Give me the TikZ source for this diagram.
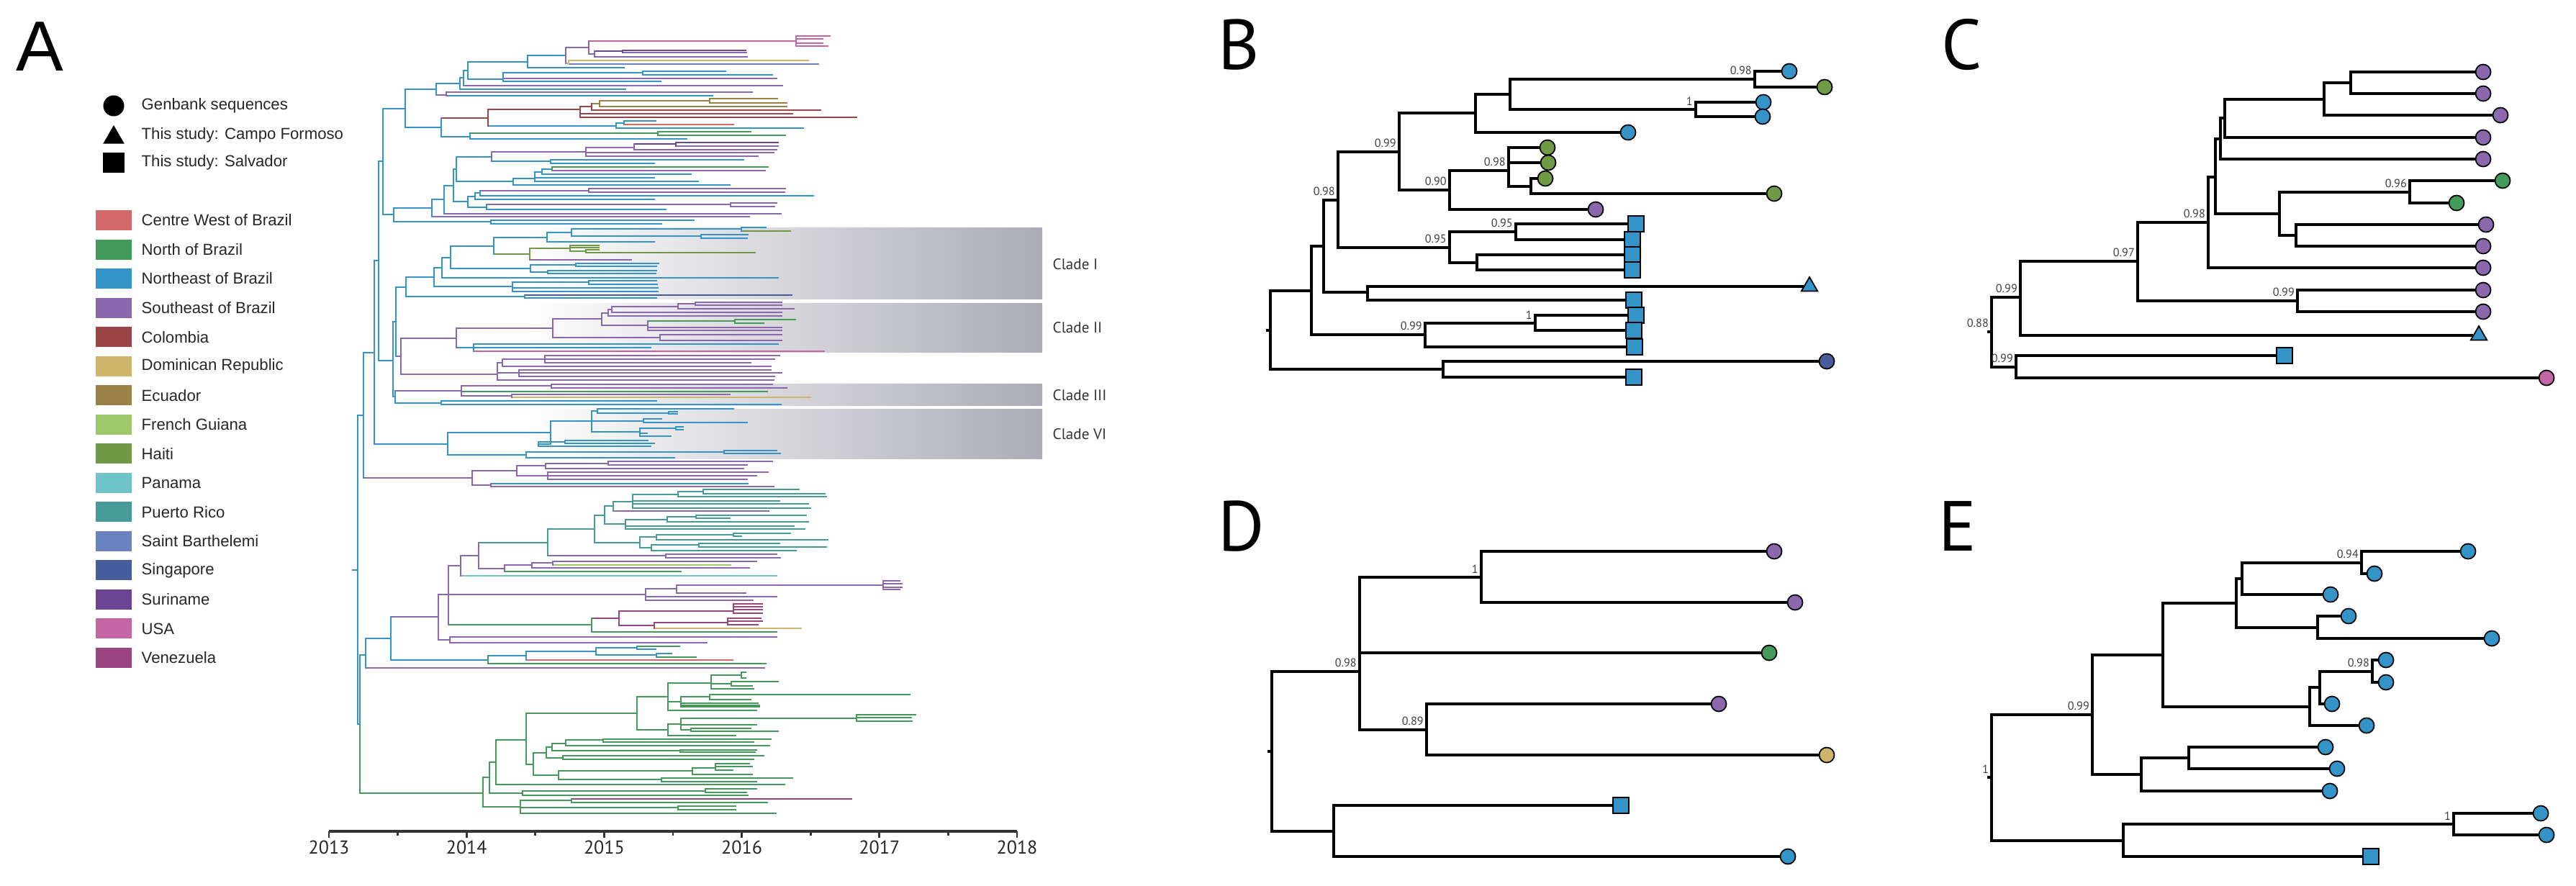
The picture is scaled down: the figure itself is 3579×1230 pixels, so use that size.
\documentclass[tikz,border=0pt]{standalone}
\usepackage{fontspec}
\setmainfont{Liberation Sans}
\newfontfamily\myriad{PT Sans}
\usetikzlibrary{shapes.geometric}
\definecolor{cw}{HTML}{D26A6A}
\definecolor{nb}{HTML}{449A5A}
\definecolor{ne}{HTML}{3494C8}
\definecolor{se}{HTML}{8B68AE}
\definecolor{co}{HTML}{9A4446}
\definecolor{dr}{HTML}{CFB56A}
\definecolor{ec}{HTML}{9A8246}
\definecolor{fg}{HTML}{9CC86A}
\definecolor{ht}{HTML}{709A46}
\definecolor{pa}{HTML}{6EC4C6}
\definecolor{pr}{HTML}{469A98}
\definecolor{sb}{HTML}{6A82C0}
\definecolor{sg}{HTML}{465C9C}
\definecolor{su}{HTML}{6C4494}
\definecolor{us}{HTML}{C466A4}
\definecolor{ve}{HTML}{9A4480}
\definecolor{cladegray}{HTML}{ACACB6}
\tikzstyle{phy} = [
  line width=0.65pt,
  line cap=rect,
]
\tikzstyle{branch} = [
  line width=0.9pt,
  black,
]
\tikzstyle{gbk} = [
  circle,
  draw=black,
  line width=0.5pt,
  minimum size=2.1mm,
  inner sep=0,
]
\tikzstyle{ssa} = [
  rectangle,
  draw=black,
  line width=0.5pt,
  minimum size=2.2mm,
  inner sep=0,
]
\tikzstyle{cfm} = [
  regular polygon,
  regular polygon sides=3,
  draw=black,
  line width=0.5pt,
  minimum size=2.6mm,
  inner sep=0,
]
\tikzstyle{pp} = [
  font=\myriad\fontsize{4.6}{5}\selectfont,
  text=black!75,
  anchor=south east,
  inner sep=0.4pt,
  xshift=-0.6pt,
  yshift=1.1pt,
]
\tikzstyle{panel} = [
  font=\myriad\fontsize{28}{30}\selectfont,
  anchor=base west,
  inner sep=0,
]
\tikzstyle{swatch} = [
  rectangle,
  minimum width=5mm,
  minimum height=2.8mm,
  inner sep=0,
]
\tikzstyle{legtext} = [
  font=\fontsize{6.3}{7}\selectfont,
  text=black!85,
  anchor=west,
  inner sep=0,
]
\tikzstyle{yearlab} = [
  font=\myriad\fontsize{7.4}{8}\selectfont,
  text=black!85,
  anchor=north,
  inner sep=0,
]
\tikzstyle{cladelab} = [
  font=\myriad\fontsize{6}{7}\selectfont,
  text=black!80,
  anchor=west,
  inner sep=0,
]

\begin{document}
\begin{tikzpicture}[
    x=0.01cm,
    y=-0.01cm,
    auto,
  ]
  \useasboundingbox (0,0) rectangle (3579,1230);

  % panel A: legend
  \node[anchor=base west, inner sep=0, font=\fontsize{28}{30}\selectfont] (pa) at (22,98) {A};
  \node[circle, fill=black, minimum size=2.9mm, inner sep=0] (genbank) at (158,147) {};
  \node[regular polygon, regular polygon sides=3, fill=black, minimum size=3.4mm, inner sep=0] (campo) at (158,191) {};
  \node[rectangle, fill=black, minimum width=3mm, minimum height=2.7mm, inner sep=0] (salvador) at (158,226) {};
  \node[legtext] (genbanktxt) at (196,147) {Genbank sequences};
  \node[legtext] (campotxt) at (196,188) {This study: Campo Formoso};
  \node[legtext] (salvadortxt) at (196,226) {This study: Salvador};
  \foreach \cl/\txt [count=\i from 0] in {cw/Centre West of Brazil, nb/North of Brazil,
      ne/Northeast of Brazil, se/Southeast of Brazil, co/Colombia, dr/Dominican Republic,
      ec/Ecuador, fg/French Guiana, ht/Haiti, pa/Panama, pr/Puerto Rico,
      sb/Saint Barthelemi, sg/Singapore, su/Suriname, us/USA, ve/Venezuela} {
    \node[swatch, fill=\cl] (sw\i) at (158,306+40.53*\i) {};
    \node[legtext] (lg\i) at (196,306+40.53*\i) {\txt};
  }

  % clade shading
  \shade[left color=white, right color=cladegray] (730,316) rectangle (1448,415);
  \shade[left color=white, right color=cladegray] (730,421) rectangle (1448,489);
  \shade[left color=white, right color=cladegray] (730,533) rectangle (1448,563);
  \shade[left color=white, right color=cladegray] (730,568) rectangle (1448,637);
  \node[cladelab] (cladeI) at (1462,367) {Clade I};
  \node[cladelab] (cladeII) at (1462,455) {Clade II};
  \node[cladelab] (cladeIII) at (1462,549) {Clade III};
  \node[cladelab] (cladeVI) at (1462,603) {Clade VI};

  % panel A: time tree, horizontal branches y/x1/x2/colour
  \foreach \y/\a/\b/\cl in {151/532/563/ne, 124/563/606/ne, 116/606/639/ne, 108/639/644/ne,
      98/644/650/ne, 86/650/733/ne, 77/733/786/ne, 66/786/818/se, 57/818/1106/us,
      50/1106/1153/us, 54/1106/1143/us, 60/1106/1143/us, 64/1106/1150/us, 75/818/826/se,
      71/826/865/su, 70/865/1036/su, 73/865/1037/se, 79/826/1038/se, 88/786/790/dr,
      84/790/1123/dr, 89/790/1137/sb, 94/733/867/ne, 110/650/699/ne, 101/699/893/ne,
      99/893/1008/ne, 104/893/1073/ne, 109/699/1079/se, 113/699/918/ne, 119/644/1087/se,
      124/639/869/ne, 132/606/620/se, 128/620/1045/se, 133/620/990/ne, 177/563/613/ne,
      164/613/678/co, 152/678/806/co, 148/806/822/co, 144/822/833/ec, 140/833/986/ec,
      137/986/1080/ec, 143/986/1093/ec, 148/833/1093/ec, 153/822/1140/co, 158/806/1101/co,
      163/806/1190/co, 175/678/856/ne, 171/856/867/ne, 168/867/911/ne, 173/867/1019/cw,
      178/856/1116/ne, 190/613/653/ne, 185/653/914/nb, 183/914/1043/nb, 188/914/1091/nb,
      193/653/954/ne,
      211/683/814/se, 205/814/881/se, 212/814/1075/se, 217/814/1053/se, 200/881/939/su,
      208/881/1079/se, 198/939/1081/su, 203/939/1081/se, 224/683/765/ne, 222/765/1033/ne,
      227/765/909/ne, 218/634/683/ne, 252/634/713/ne, 248/713/743/ne, 257/713/1014/ne,
      239/743/753/ne, 247/743/909/ne, 252/743/970/ne, 235/753/767/ne, 242/753/960/ne,
      232/767/1067/nb, 237/767/1063/se, 235/630/634/ne, 280/630/650/ne, 273/650/660/ne,
      288/650/676/ne, 268/660/667/ne, 277/660/909/ne, 265/667/818/se, 272/667/1130/ne,
      262/818/1091/se, 267/818/1090/se, 284/676/1015/se, 291/676/925/ne, 282/1015/1079/se,
      287/1015/1076/se, 258/617/630/ne, 297/617/1085/se, 277/600/617/ne, 301/600/1041/se,
      289/547/600/ne, 308/547/682/ne, 306/682/964/ne, 311/682/919/ne, 298/532/547/ne,
      224/526/532/ne, 362/520/526/ne, 490/505/520/ne, 577/497/505/ne, 792/490/497/ne,
      501/526/546/ne, 617/520/622/ne, 664/505/656/se, 1006/497/500/ne,
      447/546/550/ne, 551/546/549/ne, 399/550/564/ne, 495/550/557/se, 543/549/641/se,
      560/549/613/ne} {
    \draw[phy, color=\cl] (\a,\y) -- (\b,\y);
  }
  % clades I, II, III, VI
  \foreach \y/\a/\b/\cl in {385/564/603/ne, 412/564/729/ne, 372/603/614/ne, 398/603/712/ne,
      358/614/626/ne, 386/614/1081/ne, 342/626/686/ne, 373/626/737/ne, 330/686/760/ne,
      353/686/736/ht, 323/760/794/ne, 336/760/909/ne, 318/794/1030/ne, 328/794/974/ne,
      316/1030/1064/ne, 321/1030/1098/ht, 326/974/1039/ne, 331/974/1038/ne, 345/736/792/ht,
      361/736/877/se, 341/792/832/ht, 344/792/832/ht, 349/792/814/ht, 347/814/832/ht,
      351/814/1049/ht, 368/737/800/ne, 378/737/761/ne, 366/800/915/ne, 370/800/912/ne,
      376/761/912/ne, 380/761/911/ne, 392/712/818/ne, 400/712/914/ne, 405/712/914/ne,
      390/818/912/ne, 395/818/913/ne, 410/729/1100/sg, 414/729/912/ne,
      420/966/1086/se, 424/966/1086/se, 422/942/966/se, 429/942/1103/se, 426/850/942/se,
      434/850/1086/se, 430/845/850/se, 439/845/1086/se, 435/836/845/se, 452/836/900/se,
      446/900/1021/nb, 444/1021/1105/nb, 449/1021/1061/nb, 455/900/1086/se, 459/900/1086/se,
      443/768/836/se, 469/768/917/se, 465/917/1086/se, 473/917/1086/se, 456/634/768/se,
      483/634/904/ne, 478/658/1081/ne, 488/658/1145/us, 470/557/634/se, 520/557/691/se,
      494/757/1083/se, 499/757/1076/se, 504/757/1043/se, 499/698/757/se, 509/698/1071/se,
      514/721/1071/se, 518/721/1086/se, 523/721/1076/se, 504/691/698/se, 518/691/721/se,
      528/691/1075/se,
      536/641/766/se, 534/766/1073/se, 539/766/1093/se, 544/641/1066/nb, 550/641/711/se,
      548/711/1014/se, 552/711/1126/dr, 557/613/912/ne, 562/613/1085/ne,
      601/622/765/ne, 632/622/731/ne, 585/765/822/ne, 617/765/748/ne, 571/822/830/ne,
      585/822/894/ne, 600/822/889/ne, 568/830/1019/ne, 574/830/929/ne, 572/929/941/ne,
      575/929/941/ne, 582/894/919/ne, 587/894/1038/ne, 595/889/939/ne, 602/889/899/ne,
      606/889/932/ne, 593/939/949/ne, 597/939/949/ne, 614/748/785/ne, 620/748/904/ne,
      612/785/900/ne, 616/785/909/ne, 628/731/1006/ne, 636/731/937/ne, 626/1006/1079/ne,
      630/1006/1084/ne,
      654/656/718/se, 674/656/682/se, 647/718/758/se, 661/718/761/se, 644/758/845/se,
      651/758/1033/se, 641/845/1073/se, 646/845/1038/se, 656/761/1067/se, 661/761/1051/se,
      666/761/1038/se, 672/682/1039/ne, 676/682/1075/se} {
    \draw[phy, color=\cl] (\a,\y) -- (\b,\y);
  }
  % lower half
  \foreach \y/\a/\b/\cl in {910/500/508/ne, 1102/500/671/nb, 887/508/543/ne, 928/508/1062/se,
      857/543/609/se, 917/543/678/ne, 826/609/623/se, 889/609/625/se, 885/625/1079/se,
      893/625/982/se, 786/623/640/se, 826/623/897/se, 868/623/822/nb, 772/640/665/se,
      800/640/1079/pa, 754/665/761/pr, 790/665/701/se, 735/761/826/pr, 772/761/925/se,
      716/826/840/pr, 754/826/889/pr, 703/840/852/pr, 728/840/869/pr, 697/852/879/pr,
      710/852/1068/se, 687/879/942/pr, 696/879/1083/pr, 700/879/1123/pr, 706/879/1126/pr,
      683/942/977/pr, 690/942/1148/pr, 680/977/1110/pr, 686/977/1146/pr, 722/869/927/pr,
      731/869/1103/pr, 735/869/1118/pr, 718/927/967/pr, 725/927/1123/pr, 716/967/1120/pr,
      720/967/1014/pr, 746/889/912/pr, 761/889/905/pr, 743/912/1019/pr, 750/912/1150/pr,
      741/1019/1098/pr, 745/1019/1030/pr, 757/905/971/pr, 765/905/1106/pr, 755/971/1083/pr,
      760/971/1148/pr, 770/925/1079/se, 775/925/1084/se, 785/701/739/se, 794/701/946/nb,
      782/739/768/se, 789/739/1041/se, 780/768/1051/se, 785/768/1015/fg, 818/897/940/se,
      829/897/1079/se, 834/897/1046/se, 813/940/1227/se, 824/940/1036/se, 807/1227/1250/se,
      811/1227/1253/se, 816/1227/1253/se, 819/1227/1250/se, 859/822/860/ve, 878/822/1079/nb,
      849/860/1019/ve, 869/860/909/ve, 839/1019/1059/ve, 843/1019/1059/ve, 847/1019/1059/ve,
      852/1019/1059/ve, 865/909/1011/ve, 873/909/1113/dr, 859/1011/1057/ve, 863/1011/1059/ve,
      868/1011/1053/ve, 911/678/731/ne, 922/678/1064/nb, 905/731/828/ne, 917/731/1018/cw,
      900/828/885/ne, 910/828/912/ne, 898/885/944/nb, 902/885/911/ne, 908/912/933/ne,
      913/912/967/nb,
      1080/671/680/nb, 1121/671/723/nb, 1059/680/689/nb, 1102/680/726/nb, 1028/689/731/nb,
      1090/689/1090/nb, 991/731/885/nb, 1062/731/741/nb, 968/885/928/nb, 1014/885/928/nb,
      949/928/988/nb, 975/928/946/nb, 987/928/1051/nb, 938/988/1030/nb, 934/1030/1036/nb,
      942/1030/1036/nb, 950/988/1016/nb, 957/988/1047/nb, 947/1016/1081/nb, 953/1016/1045/nb,
      968/946/986/nb, 977/946/1053/nb, 980/946/1055/nb, 982/946/1055/nb, 965/986/1264/nb,
      972/986/1043/nb, 1006/928/946/nb, 1022/928/1022/nb, 998/946/1190/nb, 1007/946/1051/nb,
      1014/946/960/nb, 993/1190/1272/nb, 997/1190/1266/nb, 1002/1190/1267/nb,
      1012/960/1043/nb, 1016/960/1081/nb, 1046/741/759/nb, 1077/741/776/nb, 1038/759/767/nb,
      1053/759/782/nb, 1033/767/786/nb, 1043/767/945/nb, 1028/786/838/nb, 1036/786/1069/nb,
      1027/838/1071/nb, 1031/838/1047/nb, 1042/945/1051/nb, 1045/945/1049/nb,
      1050/782/1061/nb, 1055/782/1047/nb, 1071/776/962/nb, 1083/776/919/nb, 1067/962/994/nb,
      1076/962/1045/nb, 1061/994/1041/nb, 1065/994/1045/nb, 1070/994/1018/nb,
      1081/919/1101/nb, 1086/919/1051/nb, 1099/726/980/nb, 1105/726/1039/nb,
      1096/980/1051/nb, 1101/980/1037/nb, 1112/723/794/nb, 1122/723/942/nb, 1130/723/1078/nb,
      1110/794/1183/ve, 1115/794/1066/nb, 1120/942/1022/nb, 1125/942/1022/nb} {
    \draw[phy, color=\cl] (\a,\y) -- (\b,\y);
  }
  % vertical branches x/y1/y2/colour
  \foreach \x/\a/\b/\cl in {532/151/298/ne, 563/124/177/ne, 606/116/132/ne, 639/108/124/ne,
      644/98/119/ne, 650/86/110/ne, 733/77/94/ne, 786/66/88/se, 818/57/75/se, 1106/50/64/us,
      826/71/79/se, 865/70/73/su, 790/84/89/dr, 699/101/113/ne, 893/99/104/ne,
      620/128/133/se, 613/164/190/ne, 678/152/175/co, 806/148/163/co, 822/144/153/co,
      833/140/148/ec, 986/137/143/ec, 856/171/178/ne, 867/168/173/ne, 653/185/193/ne,
      914/183/188/nb,
      814/205/217/se, 881/200/208/se, 939/198/203/su, 683/211/224/se, 765/222/227/ne,
      634/218/252/ne, 713/248/257/ne, 743/239/252/ne, 753/235/242/ne, 767/232/237/nb,
      630/235/280/ne, 650/273/288/ne, 660/268/277/ne, 667/265/272/ne, 818/262/267/se,
      676/284/291/ne, 1015/282/287/se, 617/258/297/ne, 600/277/301/ne, 547/289/308/ne,
      682/306/311/ne,
      526/224/501/ne, 520/362/617/ne, 505/490/664/ne, 497/577/1006/ne,
      546/447/551/ne, 550/399/495/ne, 549/543/560/ne,
      564/385/412/ne, 603/372/398/ne, 614/358/386/ne, 626/342/373/ne, 686/330/353/ne,
      760/323/336/ne, 794/318/328/ne, 1030/316/321/ne, 974/326/331/ne, 736/345/361/ht,
      792/341/349/ht, 814/347/351/ht, 737/368/378/ne, 800/366/370/ne, 761/376/380/ne,
      712/392/405/ne, 818/390/395/ne, 729/410/414/ne,
      966/420/424/se, 942/422/429/se, 850/426/434/se, 845/430/439/se, 836/435/452/se,
      900/446/459/se, 1021/444/449/nb, 768/443/469/se, 917/465/473/se, 634/456/483/se,
      658/478/488/ne, 557/470/520/se, 757/494/504/se, 698/499/509/se, 721/514/523/se,
      691/504/528/se,
      641/536/550/se, 766/534/539/se, 711/548/552/se, 613/557/562/ne,
      622/601/632/ne, 765/585/617/ne, 822/571/600/ne, 830/568/574/ne, 929/572/575/ne,
      894/582/587/ne, 889/595/606/ne, 939/593/597/ne, 748/614/620/ne, 785/612/616/ne,
      731/628/636/ne, 1006/626/630/ne,
      656/654/674/se, 718/647/661/se, 845/641/646/se, 758/644/651/se, 761/656/666/se,
      682/672/676/se,
      500/910/1006/ne, 500/1006/1102/nb, 508/887/928/ne, 543/857/917/ne, 609/826/889/se,
      625/885/893/se, 623/786/868/se, 640/772/800/se, 665/754/790/se, 761/735/772/pr,
      826/716/754/pr, 840/703/728/pr, 852/697/710/pr, 879/687/706/pr, 942/683/690/pr,
      977/680/686/pr, 869/722/735/pr, 927/718/725/pr, 967/716/720/pr, 889/746/761/pr,
      912/743/750/pr, 1019/741/745/pr, 905/757/765/pr, 971/755/760/pr, 925/770/775/se,
      701/785/794/se, 739/782/789/se, 768/780/785/se, 897/818/834/se, 940/813/824/se,
      1227/807/819/se, 822/859/878/nb, 860/849/869/ve, 1019/839/852/ve, 909/865/873/ve,
      1011/859/868/ve, 678/911/922/nb, 731/905/917/ne, 828/900/910/ne, 885/898/902/ne,
      912/908/913/ne,
      671/1080/1121/nb, 680/1059/1102/nb, 689/1028/1090/nb, 731/991/1062/nb,
      885/968/1014/nb, 928/949/987/nb, 988/938/957/nb, 1030/934/942/nb, 1016/947/953/nb,
      946/968/982/nb, 986/965/972/nb, 946/998/1014/nb, 1190/993/1002/nb, 928/1006/1022/nb,
      960/1012/1016/nb, 741/1046/1077/nb, 759/1038/1053/nb, 767/1033/1043/nb,
      786/1028/1036/nb, 838/1027/1031/nb, 945/1042/1045/nb, 782/1050/1055/nb,
      776/1071/1083/nb, 962/1067/1076/nb, 994/1061/1070/nb, 919/1081/1086/nb,
      726/1099/1105/nb, 980/1096/1101/nb, 723/1112/1130/nb, 794/1110/1115/nb,
      942/1120/1125/nb} {
    \draw[phy, color=\cl] (\x,\a) -- (\x,\b);
  }

  % time axis
  \draw[line width=0.9pt, black!80] (457,1155) -- (1413,1155);
  \foreach \yr [count=\i from 0] in {2013,2014,2015,2016,2017,2018} {
    \draw[line width=0.8pt, black!80] (457+191.2*\i,1155) -- ++(0,9);
    \node[yearlab] (yr\yr) at (457+191.2*\i,1167) {\yr};
  }
  \foreach \i in {0,...,4} {
    \draw[line width=0.8pt, black!80] (552.6+191.2*\i,1155) -- ++(0,6);
  }

  % panel B
  \node[panel] (pb) at (1692,97) {B};
  \node[gbk, fill=ne] (b1) at (2486,99) {};
  \node[gbk, fill=ht] (b2) at (2535,121) {};
  \node[gbk, fill=ne] (b3) at (2450,142) {};
  \node[gbk, fill=ne] (b4) at (2449,162) {};
  \node[gbk, fill=ne] (b5) at (2262,184) {};
  \node[gbk, fill=ht] (b6) at (2150,205) {};
  \node[gbk, fill=ht] (b7) at (2151,226) {};
  \node[gbk, fill=ht] (b8) at (2147,248) {};
  \node[gbk, fill=ht] (b9) at (2465,269) {};
  \node[gbk, fill=se] (b10) at (2217,291) {};
  \node[ssa, fill=ne] (b11) at (2273,311) {};
  \node[ssa, fill=ne] (b12) at (2268,333) {};
  \node[ssa, fill=ne] (b13) at (2268,354) {};
  \node[ssa, fill=ne] (b14) at (2268,375) {};
  \node[cfm, fill=ne] (b15) at (2514,398) {};
  \node[ssa, fill=ne] (b16) at (2270,417) {};
  \node[ssa, fill=ne] (b17) at (2273,438) {};
  \node[ssa, fill=ne] (b18) at (2270,459) {};
  \node[ssa, fill=ne] (b19) at (2271,482) {};
  \node[gbk, fill=sg] (b20) at (2538,502) {};
  \node[ssa, fill=ne] (b21) at (2270,524) {};
  \coordinate (ba) at (2438,110);
  \coordinate (bb) at (2356,152);
  \coordinate (bc) at (2098,131);
  \coordinate (bd) at (2050,157);
  \coordinate (be) at (1944,211);
  \coordinate (bf) at (2096,237);
  \coordinate (bg) at (2127,259);
  \coordinate (bh) at (2014,264);
  \coordinate (bi) at (2106,322);
  \coordinate (bj) at (2052,365);
  \coordinate (bk) at (2014,344);
  \coordinate (bl) at (1859,278);
  \coordinate (bm) at (1900,406);
  \coordinate (bn) at (1839,342);
  \coordinate (bo) at (2133,449);
  \coordinate (bp) at (1980,465);
  \coordinate (bq) at (1822,404);
  \coordinate (bt) at (2005,513);
  \coordinate (bs) at (1765,459);
  \draw[branch] (ba) |- (b1) (ba) |- (b2) (bb) |- (b3) (bb) |- (b4)
    (bc) |- (ba) (bc) |- (bb) (bd) |- (bc) (bd) |- (b5)
    (bg) |- (b8) (bg) |- (b9) (bf) |- (b6) (bf) |- (b7) (bf) |- (bg)
    (bh) |- (bf) (bh) |- (b10) (be) |- (bd) (be) |- (bh)
    (bi) |- (b11) (bi) |- (b12) (bj) |- (b13) (bj) |- (b14) (bk) |- (bi) (bk) |- (bj)
    (bl) |- (be) (bl) |- (bk) (bm) |- (b15) (bm) |- (b16) (bn) |- (bl) (bn) |- (bm)
    (bo) |- (b17) (bo) |- (b18) (bp) |- (bo) (bp) |- (b19) (bq) |- (bn) (bq) |- (bp)
    (bt) |- (b20) (bt) |- (b21) (bs) |- (bq) (bs) |- (bt) (bs) -- ++(-6,0);
  \node[pp] at (ba) {0.98};
  \node[pp] at (bb) {1};
  \node[pp] at (be) {0.99};
  \node[pp] at (bf) {0.98};
  \node[pp] at (bh) {0.90};
  \node[pp] at (bi) {0.95};
  \node[pp] at (bk) {0.95};
  \node[pp] at (bl) {0.98};
  \node[pp] at (bo) {1};
  \node[pp] at (bp) {0.99};

  % panel C
  \node[panel] (pc) at (2697,97) {C};
  \node[gbk, fill=se] (c1) at (3450,100) {};
  \node[gbk, fill=se] (c2) at (3450,130) {};
  \node[gbk, fill=se] (c3) at (3474,160) {};
  \node[gbk, fill=se] (c4) at (3450,191) {};
  \node[gbk, fill=se] (c5) at (3450,221) {};
  \node[gbk, fill=nb] (c6) at (3477,251) {};
  \node[gbk, fill=nb] (c7) at (3413,282) {};
  \node[gbk, fill=se] (c8) at (3454,312) {};
  \node[gbk, fill=se] (c9) at (3450,342) {};
  \node[gbk, fill=se] (c10) at (3450,372) {};
  \node[gbk, fill=se] (c11) at (3450,403) {};
  \node[gbk, fill=se] (c12) at (3450,433) {};
  \node[cfm, fill=ne] (c13) at (3444,466) {};
  \node[ssa, fill=ne] (c14) at (3174,494) {};
  \node[gbk, fill=us] (c15) at (3538,525) {};
  \coordinate (ca) at (3266,115);
  \coordinate (cb) at (3229,138);
  \coordinate (cc) at (3091,164);
  \coordinate (cd) at (3085,193);
  \coordinate (ce) at (3078,246);
  \coordinate (cf) at (3167,297);
  \coordinate (cg) at (3348,267);
  \coordinate (ch) at (3190,327);
  \coordinate (ci) at (3068,309);
  \coordinate (cj) at (3192,418);
  \coordinate (ck) at (2970,363);
  \coordinate (cl) at (2807,413);
  \coordinate (cm) at (2801,510);
  \coordinate (cn) at (2767,461);
  \draw[branch] (ca) |- (c1) (ca) |- (c2) (cb) |- (ca) (cb) |- (c3)
    (cc) |- (cb) (cc) |- (c4) (cd) |- (cc) (cd) |- (c5)
    (cg) |- (c6) (cg) |- (c7) (ch) |- (c8) (ch) |- (c9) (cf) |- (cg) (cf) |- (ch)
    (ce) |- (cd) (ce) |- (cf) (ci) |- (ce) (ci) |- (c10)
    (cj) |- (c11) (cj) |- (c12) (ck) |- (ci) (ck) |- (cj)
    (cl) |- (ck) (cl) |- (c13) (cm) |- (c14) (cm) |- (c15)
    (cn) |- (cl) (cn) |- (cm) (cn) -- ++(-6,0);
  \node[pp] at (cg) {0.96};
  \node[pp] at (ci) {0.98};
  \node[pp] at (cj) {0.99};
  \node[pp] at (ck) {0.97};
  \node[pp] at (cl) {0.99};
  \node[pp] at (cm) {0.99};
  \node[pp] at (cn) {0.88};

  % panel D
  \node[panel] (pd) at (1692,765) {D};
  \node[gbk, fill=se] (d1) at (2465,766) {};
  \node[gbk, fill=se] (d2) at (2494,837) {};
  \node[gbk, fill=nb] (d3) at (2458,907) {};
  \node[gbk, fill=se] (d4) at (2388,978) {};
  \node[gbk, fill=dr] (d5) at (2538,1049) {};
  \node[ssa, fill=ne] (d6) at (2252,1119) {};
  \node[gbk, fill=ne] (d7) at (2484,1190) {};
  \coordinate (da) at (2058,802);
  \coordinate (db) at (1982,1014);
  \coordinate (dc) at (1889,933);
  \coordinate (dd) at (1853,1155);
  \coordinate (de) at (1767,1044);
  \draw[branch] (da) |- (d1) (da) |- (d2) (db) |- (d4) (db) |- (d5)
    (dc) |- (da) (dc) |- (d3) (dc) |- (db) (dd) |- (d6) (dd) |- (d7)
    (de) |- (dc) (de) |- (dd) (de) -- ++(-6,0);
  \node[pp] at (da) {1};
  \node[pp] at (db) {0.89};
  \node[pp] at (dc) {0.98};

  % panel E
  \node[panel] (pe) at (2693,765) {E};
  \node[gbk, fill=ne] (e1) at (3429,766) {};
  \node[gbk, fill=ne] (e2) at (3299,797) {};
  \node[gbk, fill=ne] (e3) at (3238,826) {};
  \node[gbk, fill=ne] (e4) at (3263,856) {};
  \node[gbk, fill=ne] (e5) at (3462,887) {};
  \node[gbk, fill=ne] (e6) at (3315,917) {};
  \node[gbk, fill=ne] (e7) at (3315,948) {};
  \node[gbk, fill=ne] (e8) at (3240,978) {};
  \node[gbk, fill=ne] (e9) at (3288,1008) {};
  \node[gbk, fill=ne] (e10) at (3231,1038) {};
  \node[gbk, fill=ne] (e11) at (3247,1068) {};
  \node[gbk, fill=ne] (e12) at (3237,1099) {};
  \node[gbk, fill=ne] (e13) at (3530,1130) {};
  \node[gbk, fill=ne] (e14) at (3538,1160) {};
  \node[ssa, fill=ne] (e15) at (3294,1190) {};
  \coordinate (ea) at (3281,782);
  \coordinate (eb) at (3115,804);
  \coordinate (ec) at (3220,872);
  \coordinate (ed) at (3107,838);
  \coordinate (ee) at (3296,933);
  \coordinate (ef) at (3223,955);
  \coordinate (eg) at (3209,982);
  \coordinate (eh) at (3005,910);
  \coordinate (ei) at (3041,1053);
  \coordinate (ej) at (2975,1076);
  \coordinate (ek) at (2907,993);
  \coordinate (el) at (3409,1145);
  \coordinate (em) at (2950,1168);
  \coordinate (en) at (2767,1080);
  \draw[branch] (ea) |- (e1) (ea) |- (e2) (eb) |- (ea) (eb) |- (e3)
    (ec) |- (e4) (ec) |- (e5) (ed) |- (eb) (ed) |- (ec)
    (ee) |- (e6) (ee) |- (e7) (ef) |- (ee) (ef) |- (e8) (eg) |- (ef) (eg) |- (e9)
    (eh) |- (ed) (eh) |- (eg) (ei) |- (e10) (ei) |- (e11) (ej) |- (ei) (ej) |- (e12)
    (ek) |- (eh) (ek) |- (ej) (el) |- (e13) (el) |- (e14) (em) |- (el) (em) |- (e15)
    (en) |- (ek) (en) |- (em) (en) -- ++(-6,0);
  \node[pp] at (ea) {0.94};
  \node[pp] at (ee) {0.98};
  \node[pp] at (ek) {0.99};
  \node[pp] at (el) {1};
  \node[pp] at (en) {1};
\end{tikzpicture}
\end{document}
